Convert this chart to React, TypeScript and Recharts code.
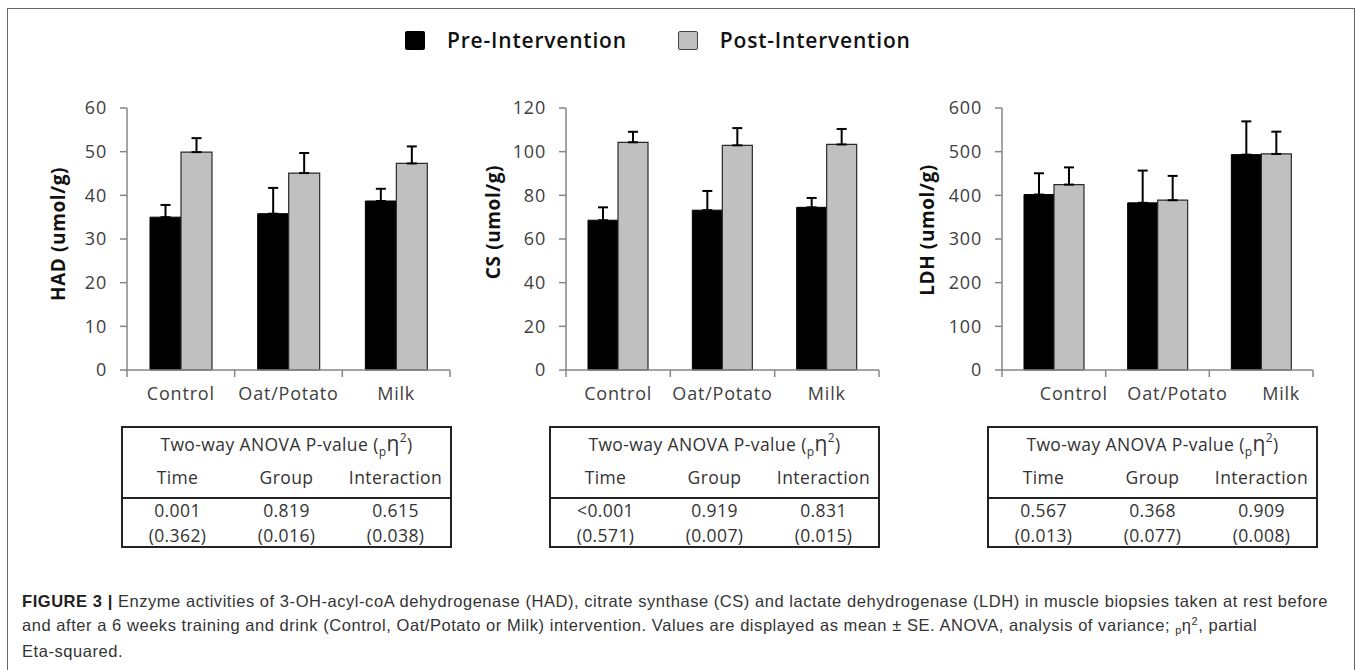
import React from "react";
import { BarChart, Bar, XAxis, YAxis, ErrorBar, Label } from "recharts";

const groups = ["Control", "Oat/Potato", "Milk"];

const hadPre = [35.0, 35.8, 38.7];
const hadPreSe = [2.8, 5.9, 2.8];
const hadPost = [49.9, 45.1, 47.3];
const hadPostSe = [3.2, 4.6, 3.9];
const hadTicks = [0, 10, 20, 30, 40, 50, 60];

const csPre = [68.6, 73.2, 74.5];
const csPreSe = [5.9, 8.8, 4.3];
const csPost = [104.3, 102.9, 103.3];
const csPostSe = [4.8, 7.9, 7.1];
const csTicks = [0, 20, 40, 60, 80, 100, 120];

const ldhPre = [401.8, 382.8, 493.2];
const ldhPreSe = [48.7, 73.9, 76.2];
const ldhPost = [424.6, 388.8, 494.8];
const ldhPostSe = [39.4, 55.7, 51.0];
const ldhTicks = [0, 100, 200, 300, 400, 500, 600];

const anovaHeaders = ["Time", "Group", "Interaction"];
const hadP = ["0.001", "0.819", "0.615"];
const hadEta = ["(0.362)", "(0.016)", "(0.038)"];
const csP = ["<0.001", "0.919", "0.831"];
const csEta = ["(0.571)", "(0.007)", "(0.015)"];
const ldhP = ["0.567", "0.368", "0.909"];
const ldhEta = ["(0.013)", "(0.077)", "(0.008)"];

const AXIS = "#868686";
const TEXT = "#404040";
const FONT = "'Open Sans', sans-serif";
const Y_W = 130;

const panels = [
  {
    title: "HAD (umol/g)",
    pre: hadPre, preSe: hadPreSe, post: hadPost, postSe: hadPostSe, ticks: hadTicks,
    plotLeft: 127, plotRight: 450, barSize: 31, titleX: 61, titleDy: -5, tickDx: 0,
  },
  {
    title: "CS (umol/g)",
    pre: csPre, preSe: csPreSe, post: csPost, postSe: csPostSe, ticks: csTicks,
    plotLeft: 566, plotRight: 879, barSize: 30, titleX: 57, titleDy: -17, tickDx: 0,
  },
  {
    title: "LDH (umol/g)",
    pre: ldhPre, preSe: ldhPreSe, post: ldhPost, postSe: ldhPostSe, ticks: ldhTicks,
    plotLeft: 1002, plotRight: 1313, barSize: 30, titleX: 55, titleDy: -9, tickDx: 20,
  },
];

const tables = [
  { left: 121, p: hadP, eta: hadEta },
  { left: 549, p: csP, eta: csEta },
  { left: 987, p: ldhP, eta: ldhEta },
];

function GroupTick({ x, y, payload, index, band, dx }: any) {
  const lineTop = y - 17;
  return (
    <g>
      <line x1={x - band / 2} x2={x - band / 2} y1={lineTop} y2={lineTop + 7} stroke={AXIS} strokeWidth={1.5} />
      {index === groups.length - 1 && (
        <line x1={x + band / 2} x2={x + band / 2} y1={lineTop} y2={lineTop + 7} stroke={AXIS} strokeWidth={1.5} />
      )}
      <text
        x={x + dx}
        y={y}
        dy="0.71em"
        textAnchor="middle"
        fill={TEXT}
        fontSize={18}
        letterSpacing={0.8}
        fontFamily={FONT}
      >
        {payload.value}
      </text>
    </g>
  );
}

function AxisTitle({ viewBox, value, tx, dy }: any) {
  const cx = viewBox.x + tx;
  const cy = viewBox.y + viewBox.height / 2 + dy;
  return (
    <text
      x={cx}
      y={cy}
      transform={`rotate(-90, ${cx}, ${cy})`}
      textAnchor="middle"
      dominantBaseline="central"
      fontFamily={FONT}
      fontWeight={700}
      fontSize={19}
      letterSpacing={0.6}
      fill="#111"
    >
      {value}
    </text>
  );
}

function Panel({ p }: any) {
  const width = p.plotRight - p.plotLeft + Y_W + 10;
  const band = (p.plotRight - p.plotLeft) / groups.length;
  const data = groups.map((g, i) => ({
    group: g,
    pre: p.pre[i],
    preErr: [0, p.preSe[i]],
    post: p.post[i],
    postErr: [0, p.postSe[i]],
  }));
  return (
    <div style={{ position: "absolute", left: p.plotLeft - Y_W, top: 0 }}>
      <BarChart
        width={width}
        height={420}
        data={data}
        margin={{ top: 108, right: 10, left: 0, bottom: 0 }}
        barGap={0}
        barSize={p.barSize}
      >
        <XAxis
          dataKey="group"
          height={50}
          interval={0}
          axisLine={{ stroke: AXIS, strokeWidth: 1.5 }}
          tickLine={false}
          tickSize={7}
          tickMargin={10}
          tick={<GroupTick band={band} dx={p.tickDx} />}
        />
        <YAxis
          width={Y_W}
          domain={[0, p.ticks[p.ticks.length - 1]]}
          ticks={p.ticks}
          interval={0}
          axisLine={{ stroke: AXIS, strokeWidth: 1.5 }}
          tickLine={{ stroke: AXIS, strokeWidth: 1.5 }}
          tickSize={7}
          tickMargin={13}
          tick={{ fill: TEXT, fontSize: 18, fontFamily: FONT, letterSpacing: 0.8 }}
        >
          <Label content={<AxisTitle value={p.title} tx={p.titleX} dy={p.titleDy} />} />
        </YAxis>
        <Bar dataKey="pre" fill="#000" stroke="#000" strokeWidth={1} isAnimationActive={false}>
          <ErrorBar dataKey="preErr" direction="y" width={5} stroke="#000" strokeWidth={2} />
        </Bar>
        <Bar dataKey="post" fill="#c0c0c0" stroke="#2a2a2a" strokeWidth={1.2} isAnimationActive={false}>
          <ErrorBar dataKey="postErr" direction="y" width={5} stroke="#000" strokeWidth={2} />
        </Bar>
      </BarChart>
    </div>
  );
}

function AnovaTable({ left, p, eta }: any) {
  const row = (top: number, cells: string[]) => (
    <div style={{ position: "absolute", left: 0, right: 0, top, display: "flex", lineHeight: "22px" }}>
      {cells.map((c) => (
        <div key={c} style={{ flex: 1, textAlign: "center" }}>
          {c}
        </div>
      ))}
    </div>
  );
  return (
    <div
      style={{
        position: "absolute",
        left,
        top: 426,
        width: 331,
        height: 122,
        boxSizing: "border-box",
        border: "2px solid #222",
        fontFamily: FONT,
        fontSize: 17.5,
        letterSpacing: 0.4,
        color: "#333",
      }}
    >
      <div style={{ position: "absolute", left: 0, right: 0, top: 3, textAlign: "center", lineHeight: "24px" }}>
        Two-way ANOVA P-value (
        <span style={{ fontSize: 12, position: "relative", top: 5 }}>p</span>
        <span style={{ fontSize: 21 }}>η</span>
        <span style={{ fontSize: 12, position: "relative", top: -9 }}>2</span>)
      </div>
      {row(38, anovaHeaders)}
      <div style={{ position: "absolute", left: 0, right: 0, top: 69, height: 2, background: "#222" }} />
      {row(71, p)}
      {row(96, eta)}
    </div>
  );
}

export default function App() {
  return (
    <div style={{ position: "relative", width: 1358, height: 670, background: "#fff", overflow: "hidden" }}>
      <style>{`body{margin:0}`}</style>
      <div
        style={{
          position: "absolute",
          left: 7,
          top: 8,
          width: 1348,
          height: 700,
          boxSizing: "border-box",
          borderTop: "1.5px solid #666",
          borderLeft: "1.5px solid #666",
          borderRight: "1.5px solid #666",
        }}
      />
      <div
        style={{
          position: "absolute",
          top: 28,
          left: 405,
          display: "flex",
          alignItems: "center",
          fontFamily: FONT,
          fontWeight: 600,
          fontSize: 21,
          letterSpacing: 0.8,
          color: "#111",
          lineHeight: "24px",
        }}
      >
        <div style={{ width: 20, height: 19, background: "#000", borderRadius: 2 }} />
        <div style={{ marginLeft: 22 }}>Pre-Intervention</div>
        <div
          style={{
            width: 20,
            height: 19,
            boxSizing: "border-box",
            background: "#c0c0c0",
            border: "1.5px solid #444",
            borderRadius: 2,
            marginLeft: 51,
          }}
        />
        <div style={{ marginLeft: 22 }}>Post-Intervention</div>
      </div>
      {panels.map((p) => (
        <Panel key={p.title} p={p} />
      ))}
      {tables.map((t) => (
        <AnovaTable key={t.left} left={t.left} p={t.p} eta={t.eta} />
      ))}
      <div
        style={{
          position: "absolute",
          left: 22,
          top: 589,
          fontFamily: "'Liberation Sans', Arial, sans-serif",
          fontSize: 16.5,
          letterSpacing: 0.55,
          lineHeight: "24px",
          color: "#333",
          whiteSpace: "nowrap",
        }}
      >
        <div>
          <b style={{ color: "#222" }}>FIGURE 3 |</b> Enzyme activities of 3-OH-acyl-coA dehydrogenase (HAD), citrate
          synthase (CS) and lactate dehydrogenase (LDH) in muscle biopsies taken at rest before
        </div>
        <div>
          and after a 6 weeks training and drink (Control, Oat/Potato or Milk) intervention. Values are displayed as
          mean ± SE. ANOVA, analysis of variance; <span style={{ fontSize: 11, position: "relative", top: 3 }}>p</span>
          η<span style={{ fontSize: 11, position: "relative", top: -6 }}>2</span>, partial
        </div>
        <div>Eta-squared.</div>
      </div>
    </div>
  );
}
